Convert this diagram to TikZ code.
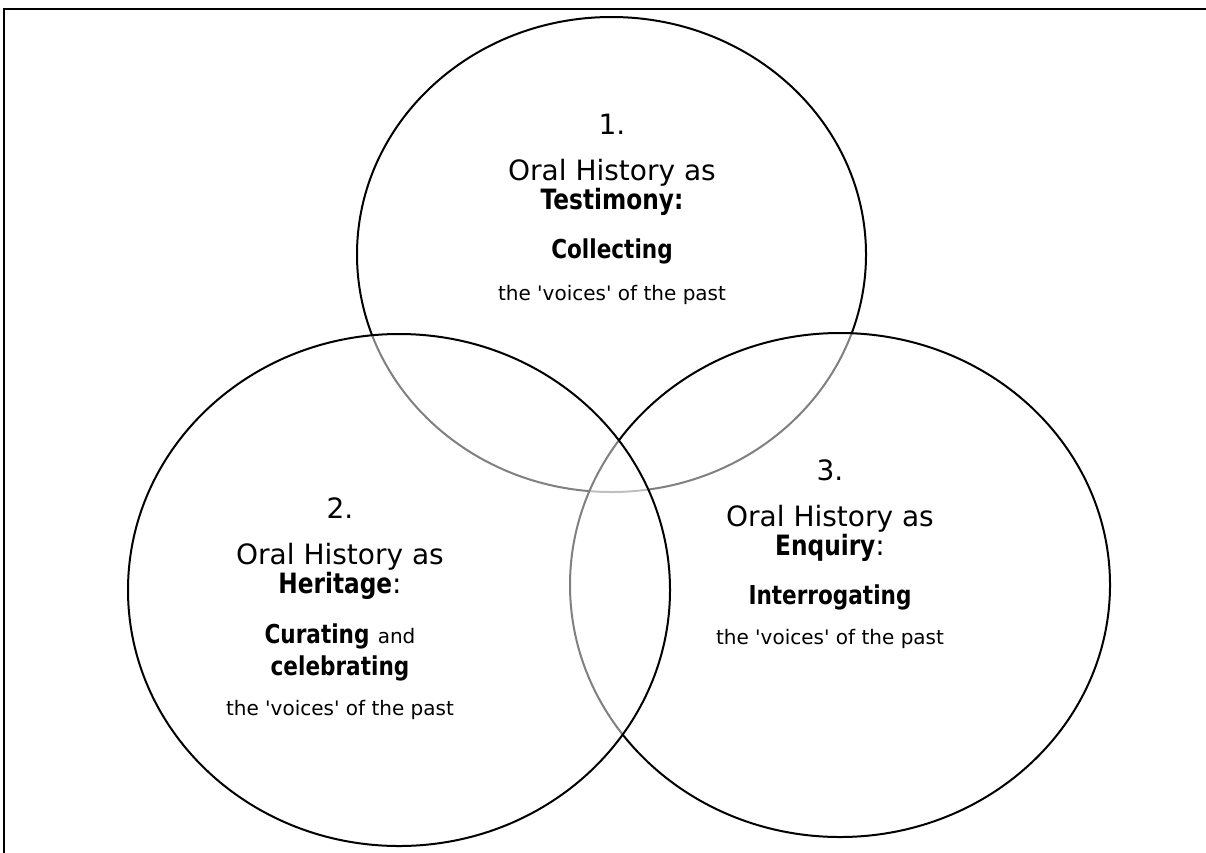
\documentclass[tikz,border=0pt]{standalone}
\usepackage{fontspec}
\setmainfont{DejaVu Sans}[BoldFont={DejaVu Sans Bold}, BoldFeatures={FakeStretch=0.83}]
\usetikzlibrary{shapes.geometric}

\begin{document}
\begin{tikzpicture}[x=1pt, y=-1pt,
  venn/.style={draw, ellipse, line width=2pt, fill=white, fill opacity=0.5, inner sep=0pt},
  head/.style={font=\fontsize{28}{28}\selectfont, anchor=base, inner sep=0pt},
  sub/.style={font=\fontsize{26}{26}\selectfont, anchor=base, inner sep=0pt},
  past/.style={font=\fontsize{20}{20}\selectfont, anchor=base, inner sep=0pt}]
\useasboundingbox (0,0) rectangle (1206,852);
\draw[line width=2pt] (3.5,870) -- (3.5,9) -- (1220,9);

% the three circles
\node[venn, minimum width=509, minimum height=475] (oral1) at (611.5,254.5) {};
\node[venn, minimum width=540, minimum height=504] (oral3) at (840,585) {};
\node[venn, minimum width=542, minimum height=512] (oral2) at (399,590) {};

% 1. testimony
\node[head] (num1) at (612,134) {1.};
\node[head] (as1) at (612,180) {Oral History as};
\node[head] (kind1) at (612,209) {\textbf{Testimony:}};
\node[sub] (verb1) at (612,258) {\textbf{Collecting}};
\node[past] (past1) at (612,300) {the \textquotesingle voices\textquotesingle{} of the past};

% 2. heritage
\node[head] (num2) at (340,518) {2.};
\node[head] (as2) at (340,564) {Oral History as};
\node[head] (kind2) at (340,593) {\textbf{Heritage}:};
\node[sub] (verb2) at (340,643) {\textbf{Curating} {\fontsize{20}{20}\selectfont and}};
\node[sub] (verb2b) at (340,675) {\textbf{celebrating}};
\node[past] (past2) at (340,715) {the \textquotesingle voices\textquotesingle{} of the past};

% 3. enquiry
\node[head] (num3) at (830,480) {3.};
\node[head] (as3) at (830,526) {Oral History as};
\node[head] (kind3) at (830,555) {\textbf{Enquiry}:};
\node[sub] (verb3) at (830,604) {\textbf{Interrogating}};
\node[past] (past3) at (830,644) {the \textquotesingle voices\textquotesingle{} of the past};
\end{tikzpicture}
\end{document}
